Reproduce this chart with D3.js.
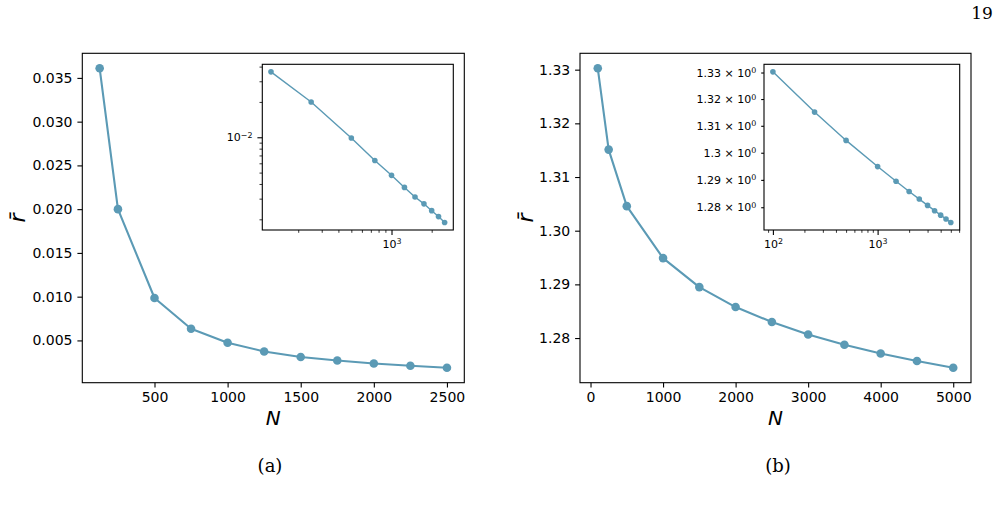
<!DOCTYPE html>
<html>
<head>
<meta charset="utf-8">
<script src="https://cdn.jsdelivr.net/npm/d3@7"></script>
<style>
  html, body { margin: 0; padding: 0; background: #fff; }
  svg { display: block; }
  text { fill: #000; }
</style>
</head>
<body>
<svg id="chart" width="1003" height="507"></svg>
<script>
// ---------------- data ----------------
const leftN = [125, 250, 500, 750, 1000, 1250, 1500, 1750, 2000, 2250, 2500];
const leftR = [0.0361, 0.0200, 0.00985, 0.00634, 0.00474, 0.00374, 0.00310, 0.00271, 0.00237, 0.00211, 0.00188];
const rightN = [100, 250, 500, 1000, 1500, 2000, 2500, 3000, 3500, 4000, 4500, 5000];
const rightR = [1.33026, 1.31511, 1.30457, 1.29489, 1.28949, 1.28577, 1.28298, 1.28067, 1.27875, 1.27713, 1.27572, 1.27447];

const leftXTicks = [500, 1000, 1500, 2000, 2500];
const leftYTicks = [0.005, 0.010, 0.015, 0.020, 0.025, 0.030, 0.035];
const rightXTicks = [0, 1000, 2000, 3000, 4000, 5000];
const rightYTicks = [1.28, 1.29, 1.30, 1.31, 1.32, 1.33];
const insetRightYLabels = ["1.28", "1.29", "1.3", "1.31", "1.32", "1.33"];

const xLabel = "N";
const yLabel = "r\u0304";
const captions = ["(a)", "(b)"];
const pageNumber = "19";

// ---------------- style ----------------
const COLOR = "#5b9ab5";
const FONT = "DejaVu Sans";
const SERIF = "DejaVu Serif";
const INSET_FS = 11;
const svg = d3.select("#chart");

function padLin(vals) {
  const [a, b] = d3.extent(vals); const m = (b - a) * 0.05; return [a - m, b + m];
}
function padLog(vals) {
  const [a, b] = d3.extent(vals).map(Math.log10); const m = (b - a) * 0.05;
  return [Math.pow(10, a - m), Math.pow(10, b + m)];
}
function styleAxis(g, fs) {
  g.select(".domain").remove();
  g.selectAll(".tick line").attr("stroke", "#000").attr("stroke-width", 1.1);
  g.selectAll(".tick text").attr("font-family", FONT).attr("font-size", fs).attr("fill", "#000");
}
function box(x0, y0, x1, y1) {
  svg.append("rect").attr("x", x0).attr("y", y0).attr("width", x1 - x0).attr("height", y1 - y0)
    .attr("fill", "#fff").attr("stroke", "#000").attr("stroke-width", 1.1);
}
function drawSeries(g, xs, ys, N, R, lw, r) {
  const pts = N.map((n, i) => [xs(n), ys(R[i])]);
  g.append("path").attr("d", d3.line()(pts)).attr("fill", "none")
    .attr("stroke", COLOR).attr("stroke-width", lw).attr("stroke-linejoin", "round");
  g.selectAll("circle.m").data(pts).join("circle").attr("class", "m")
    .attr("cx", d => d[0]).attr("cy", d => d[1]).attr("r", r).attr("fill", COLOR);
}

function mainPanel(cfg) {
  const { x0, x1, y0, y1, N, R, xt, yt, yfmt, ylabX } = cfg;
  const xs = d3.scaleLinear().domain(padLin(N)).range([x0, x1]);
  const ys = d3.scaleLinear().domain(padLin(R)).range([y1, y0]);
  box(x0, y0, x1, y1);
  const gx = svg.append("g").attr("transform", `translate(0,${y1})`)
    .call(d3.axisBottom(xs).tickValues(xt).tickSize(4.9).tickPadding(4.9).tickFormat(d3.format("d")));
  styleAxis(gx, 14);
  const gy = svg.append("g").attr("transform", `translate(${x0},0)`)
    .call(d3.axisLeft(ys).tickValues(yt).tickSize(4.9).tickPadding(4.9).tickFormat(d3.format(yfmt)));
  styleAxis(gy, 14);
  const g = svg.append("g");
  drawSeries(g, xs, ys, N, R, 2.1, 4.3);
  svg.append("text").attr("x", (x0 + x1) / 2).attr("y", 425).attr("text-anchor", "middle")
    .attr("font-family", FONT).attr("font-style", "italic").attr("font-size", 20).text(xLabel);
  svg.append("text").attr("transform", `translate(${ylabX},${(y0 + y1) / 2}) rotate(-90)`)
    .attr("text-anchor", "middle").attr("font-family", FONT).attr("font-style", "italic")
    .attr("font-size", 22).text(yLabel);
}

function supLabel(sel, base, exp) {
  sel.text(null);
  sel.append("tspan").text(base);
  sel.append("tspan").attr("dy", "-0.45em").attr("font-size", "0.72em").text(exp);
}

function logMinorTicks(domain) {
  const out = [];
  const lo = Math.floor(Math.log10(domain[0])), hi = Math.ceil(Math.log10(domain[1]));
  for (let e = lo; e <= hi; e++) for (let k = 1; k <= 9; k++) {
    const v = k * Math.pow(10, e);
    if (v >= domain[0] && v <= domain[1]) out.push(v);
  }
  return out;
}

function insetPanel(cfg) {
  const { x0, x1, y0, y1, N, R, xMajor, yMajor, yLabels, yMinor } = cfg;
  const xd = padLog(N), yd = padLog(R);
  const xs = d3.scaleLog().domain(xd).range([x0, x1]);
  const ys = d3.scaleLog().domain(yd).range([y1, y0]);
  box(x0, y0, x1, y1);
  const xMin = logMinorTicks(xd).filter(v => !xMajor.includes(v));
  const gxm = svg.append("g").attr("transform", `translate(0,${y1})`)
    .call(d3.axisBottom(xs).tickValues(xMin).tickSize(2.8).tickFormat(""));
  styleAxis(gxm, INSET_FS); gxm.selectAll(".tick line").attr("stroke-width", 0.8);
  const gx = svg.append("g").attr("transform", `translate(0,${y1})`)
    .call(d3.axisBottom(xs).tickValues(xMajor).tickSize(4.9).tickPadding(4.9).tickFormat(d => "x"));
  styleAxis(gx, INSET_FS);
  gx.selectAll(".tick text").each(function(d) { supLabel(d3.select(this), "10", String(Math.round(Math.log10(d)))); });
  if (yMinor) {
    const gym = svg.append("g").attr("transform", `translate(${x0},0)`)
      .call(d3.axisLeft(ys).tickValues(yMinor).tickSize(2.8).tickFormat(""));
    styleAxis(gym, INSET_FS); gym.selectAll(".tick line").attr("stroke-width", 0.8);
  }
  const gy = svg.append("g").attr("transform", `translate(${x0},0)`)
    .call(d3.axisLeft(ys).tickValues(yMajor).tickSize(yLabels ? 2.8 : 4.9).tickPadding(4.9).tickFormat(d => "x"));
  styleAxis(gy, INSET_FS);
  gy.selectAll(".tick text").each(function(d, i) {
    const t = d3.select(this);
    if (yLabels) supLabel(t, yLabels[i] + " \u00d7 10", "0");
    else supLabel(t, "10", "\u2212" + String(-Math.round(Math.log10(d))));
  });
  const g = svg.append("g");
  drawSeries(g, xs, ys, N, R, 1.4, 2.8);
}

// ---------------- panels ----------------
mainPanel({ x0: 82.3, x1: 464.3, y0: 53.3, y1: 382.7, N: leftN, R: leftR,
  xt: leftXTicks, yt: leftYTicks, yfmt: ".3f", ylabX: 25 });
mainPanel({ x0: 580, x1: 971, y0: 53.3, y1: 382.7, N: rightN, R: rightR,
  xt: rightXTicks, yt: rightYTicks, yfmt: ".2f", ylabX: 533 });

const leftYd = padLog(leftR);
insetPanel({ x0: 262.3, x1: 453.3, y0: 64.3, y1: 230, N: leftN, R: leftR,
  xMajor: [1000], yMajor: [0.01],
  yMinor: logMinorTicks(leftYd).filter(v => Math.abs(v - 0.01) > 1e-9) });
insetPanel({ x0: 764, x1: 959.7, y0: 64.3, y1: 230, N: rightN, R: rightR,
  xMajor: [100, 1000], yMajor: rightYTicks, yLabels: insetRightYLabels, yMinor: null });

// ---------------- captions ----------------
svg.append("text").attr("x", 270).attr("y", 472).attr("text-anchor", "middle")
  .attr("font-family", SERIF).attr("font-size", 18).text(captions[0]);
svg.append("text").attr("x", 778).attr("y", 472).attr("text-anchor", "middle")
  .attr("font-family", SERIF).attr("font-size", 18).text(captions[1]);
svg.append("text").attr("x", 982).attr("y", 19).attr("text-anchor", "middle")
  .attr("font-family", SERIF).attr("font-size", 17).text(pageNumber);
</script>
</body>
</html>
